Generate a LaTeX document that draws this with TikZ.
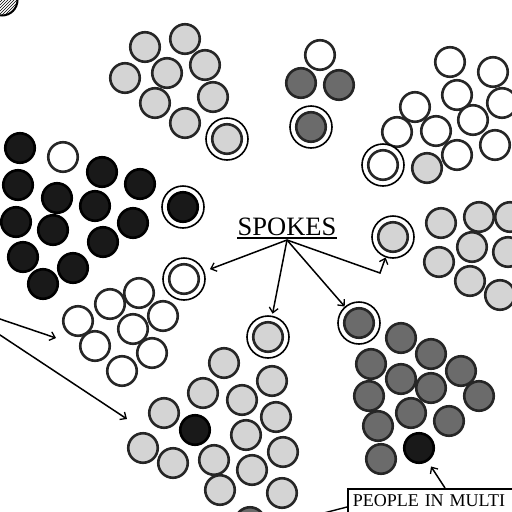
\documentclass[tikz,border=0pt]{standalone}
\usepackage{fontspec}
\setmainfont{Liberation Serif}
\usetikzlibrary{arrows.meta,patterns}
\tikzset{
  person/.style={circle,draw=black!85,line width=2.6pt,minimum size=29.5pt,inner sep=0pt},
  pw/.style={person,fill=white},
  pl/.style={person,fill=black!17},
  pd/.style={person,fill=black!58},
  pb/.style={person,fill=black!90,draw=black},
  ring/.style={circle,draw=black,line width=1.6pt,minimum size=42pt,inner sep=0pt,fill=white},
  arr/.style={line width=1.5pt,-{Straight Barb[length=5pt,width=9pt,line width=1.3pt]}},
}
\begin{document}
\begin{tikzpicture}[x=1pt,y=-1pt]
\useasboundingbox (0,0) rectangle (512,512);
\clip (0,0) rectangle (512,512);
\fill[white] (0,0) rectangle (512,512);

% hatched partial circle in the corner
\node[circle,draw=black,line width=2pt,minimum size=31pt,pattern=north east lines,pattern color=black] (hatch) at (2,0) {};

% top light cluster
\foreach \n/\x/\y in {a1/145/47,a2/185/39,a3/167/73,a4/205/65,a5/125/78,a6/213/97,a7/155/103,a8/185/123}
  \node[pl] (\n) at (\x,\y) {};
\node[ring] (sa) at (227,139) {};
\node[pl] (sai) at (sa) {};

% small top group
\node[pw] (b1) at (320,55) {};
\node[pd] (b2) at (301,83) {};
\node[pd] (b3) at (339,85) {};
\node[ring] (sb) at (311,127) {};
\node[pd] (sbi) at (sb) {};

% top right white cluster
\foreach \n/\x/\y in {c1/450/62,c2/493/72,c3/457/95,c4/502/103,c5/415/107,c6/473/120,c7/397/132,c8/436/131,c9/495/145,c10/457/155}
  \node[pw] (\n) at (\x,\y) {};
\node[pl] (c11) at (427,168) {};
\node[ring] (sc) at (383,165) {};
\node[pw] (sci) at (sc) {};

% black cluster
\foreach \n/\x/\y in {d1/20/148,d2/102/172,d3/18/185,d4/140/184,d5/57/198,d6/95/206,d7/16/222,d8/53/230,d9/133/223,d10/103/242,d11/23/257,d12/73/268,d13/43/284}
  \node[pb] (\n) at (\x,\y) {};
\node[pw] (d14) at (63,157) {};
\node[ring] (sd) at (183,207) {};
\node[pb] (sdi) at (sd) {};

% middle-left white cluster
\foreach \n/\x/\y in {e1/139/293,e2/110/304,e3/163/316,e4/78/321,e5/133/329,e6/95/346,e7/152/353,e8/122/371}
  \node[pw] (\n) at (\x,\y) {};
\node[ring] (se) at (184,279) {};
\node[pw] (sei) at (se) {};

% bottom light cluster
\foreach \n/\x/\y in {f1/224/363,f2/272/381,f3/203/393,f4/242/400,f5/164/413,f6/276/417,f7/246/435,f8/143/448,f9/173/463,f10/214/460,f11/283/452,f12/252/470,f13/220/490,f14/282/493}
  \node[pl] (\n) at (\x,\y) {};
\node[pb] (f15) at (195,430) {};
\node[pd] (f16) at (250,522) {};
\node[ring] (sf) at (268,337) {};
\node[pl] (sfi) at (sf) {};

% right light cluster
\foreach \n/\x/\y in {g1/441/223,g2/479/217,g3/510/217,g4/472/247,g5/439/262,g6/508/252,g7/470/281,g8/500/295}
  \node[pl] (\n) at (\x,\y) {};
\node[ring] (sg) at (393,237) {};
\node[pl] (sgi) at (sg) {};

% dark cluster
\foreach \n/\x/\y in {h1/401/338,h2/431/354,h3/371/364,h4/461/371,h5/401/379,h6/431/388,h7/369/396,h8/479/396,h9/411/413,h10/449/421,h11/378/426,h12/381/459}
  \node[pd] (\n) at (\x,\y) {};
\node[pb] (bk) at (419,448) {};
\node[ring] (sh) at (359,323) {};
\node[pd] (shi) at (sh) {};

% SPOKES label
\node[inner sep=0pt,anchor=base,font=\fontsize{26.5}{30}\selectfont] (sp) at (287,235) {SPOKES};
\draw[line width=1.6pt] ([yshift=-3pt]sp.base west) -- ([yshift=-3pt]sp.base east);
\coordinate (hub) at ([yshift=-5pt]sp.base);
\coordinate (bend) at (380,273);

\draw[arr,shorten >=6pt] (hub) -- (se);
\draw[arr,shorten >=2pt] (hub) -- (sf);
\draw[arr] (hub) -- (sh);
\draw[arr] (hub) -- (bend) -- (sg);

% left arrows
\coordinate (l1) at (-3,318);
\coordinate (l1e) at (56,338);
\coordinate (l2) at (-3,333);
\coordinate (l2e) at (127,419);
\draw[arr] (l1) -- (l1e);
\draw[arr] (l2) -- (l2e);

% people box
\node[draw,line width=1.5pt,anchor=north west,inner xsep=5pt,inner ysep=5pt,
  text width=190pt,align=left,text height=13pt,text depth=20pt,
  font=\fontsize{18}{22}\selectfont] (ppl) at (347,488) {PEOPLE IN MULTI};
\draw[arr,shorten >=6pt] ([xshift=98pt]ppl.north west) -- (bk);
\coordinate (boxoff) at (316,515);
\draw[line width=1.4pt] ([yshift=-19pt]ppl.north west) -- (boxoff);
\end{tikzpicture}
\end{document}
